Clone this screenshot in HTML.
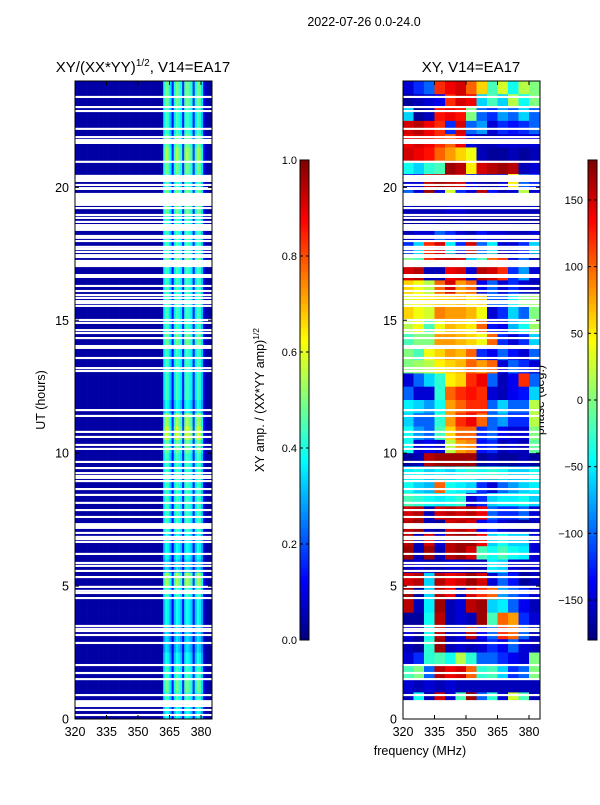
<!DOCTYPE html>
<html><head><meta charset="utf-8"><style>
body{margin:0;background:#fff;width:600px;height:800px;overflow:hidden}
svg text{font-family:"Liberation Sans",sans-serif;fill:#000}
</style></head><body>
<svg id="chart" width="600" height="800" viewBox="0 0 600 800" xmlns="http://www.w3.org/2000/svg">
<text x="364" y="26" font-size="12.5" text-anchor="middle">2022-07-26 0.0-24.0</text>
<text x="143" y="72" font-size="15" text-anchor="middle">XY/(XX*YY)<tspan font-size="10" dy="-6">1/2</tspan><tspan dy="6">, V14=EA17</tspan></text>
<text x="471" y="72" font-size="15" text-anchor="middle">XY, V14=EA17</text>
<text transform="translate(45,400) rotate(-90)" font-size="12.5" text-anchor="middle">UT (hours)</text>
<text x="420" y="755" font-size="12.5" text-anchor="middle">frequency (MHz)</text>
<text transform="translate(264,400) rotate(-90)" font-size="12.5" text-anchor="middle">XY amp. / (XX*YY amp)<tspan font-size="8.5" dy="-5">1/2</tspan></text>
<text transform="translate(544,400) rotate(-90)" font-size="12.5" text-anchor="middle">phase (deg.)</text>
<g id="left"></g><g id="right"></g><g id="cb1"></g><g id="cb2"></g>
</svg>
<script>
// ---- data ----
const phaseFreqs = [320,325,330,335,340,345,350,355,360,365,370,375,380]; // bin starts, 5 MHz wide
const rowStartHours = [23.5,23,22.5,22,21.5,21,20.5,20,19.5,19,18.5,18,17.5,17,16.5,16,15.5,15,14.5,14,13.5,13,12.5,12,11.5,11,10.5,10,9.5,9,8.5,8,7.5,7,6.5,6,5.5,5,4.5,4,3.5,3,2.5,2,1.5,1,0.5,0];
const phaseRows = [
[-150,-120,-100,120,140,150,100,60,-20,30,-40,20,0],
[-170,-160,-150,-140,120,150,140,-60,-20,-60,20,-40,0],
[-60,-170,-160,130,140,130,0,-100,-120,-80,-100,-60,-100],
[150,160,140,120,-120,150,-100,-80,-150,-120,-130,-120,-100],
[140,150,140,120,100,140,-150,-160,-160,-150,-150,-150,-150],
[150,140,130,100,80,60,40,-160,-170,-170,-160,-170,-160],
[-40,-60,-30,-20,170,160,50,150,160,170,160,-160,-150],
[-150,-150,160,170,160,150,-150,-160,-170,-150,50,-100,-120],
[-100,-150,170,-150,30,-120,-150,160,-130,-160,-150,20,-150],
[-160,-160,-160,-160,-150,-150,-160,-160,-160,-160,-160,-160,-160],
[-170,-170,-160,-170,-170,-160,-170,-170,-170,-170,-170,-170,-170],
[-160,-150,-150,-100,-120,-150,-160,-130,-150,-150,-160,-160,-150],
[-120,-60,120,150,-50,-120,150,-100,-50,-150,-150,-120,-60],
[0,-20,120,150,160,150,-60,-20,100,120,-150,-100,-160],
[150,160,-160,-160,140,150,-150,160,150,120,-120,-80,-150],
[60,40,20,100,150,80,100,-140,-100,-150,-120,-150,-160],
[30,40,50,60,60,70,50,60,-100,-100,-50,0,10],
[60,40,30,90,80,80,70,40,-150,-120,-60,-100,0],
[20,40,-20,40,70,60,50,100,-130,-140,-70,-40,10],
[-20,0,0,80,80,70,60,40,100,-120,-150,-120,-60],
[0,-20,40,60,80,70,100,-120,-140,-100,-130,-150,-100],
[0,10,20,50,60,70,100,80,100,-150,-100,-120,-150],
[-150,-100,-60,-30,50,60,120,140,-100,-160,-140,120,-100],
[-100,-150,-150,-30,100,120,130,120,-150,-160,-140,-130,-60],
[-50,-60,-80,-40,80,100,120,120,-100,-60,-100,-100,20],
[-60,-100,-100,-30,80,120,140,100,-100,-80,-120,-120,20],
[-40,-80,-100,-20,60,100,100,-120,-100,-140,-150,-150,0],
[-40,-150,-140,-150,20,80,90,-130,-120,-160,-150,-160,-10],
[-170,-160,160,170,170,170,170,-170,-160,-170,-170,-160,-170],
[-50,-40,-60,-50,-60,-40,-30,-40,-30,-40,-60,-60,-40],
[-40,-60,-70,100,-40,-50,-60,-120,-150,-100,-80,-60,-50],
[-20,-30,-40,-50,-40,-30,-150,-120,-60,-50,-50,-40,-60],
[150,160,-160,150,160,150,160,140,-100,-120,-120,-100,-150],
[160,170,-160,-170,150,160,150,-140,-120,-150,-160,-170,-160],
[160,-160,150,-150,160,170,170,140,-60,-40,-60,-60,-150],
[170,-160,170,-160,160,170,150,-20,-40,-20,-40,-50,-150],
[-160,-150,-160,-160,-150,-150,-160,-160,-50,-60,-150,-160,-150],
[150,160,-60,160,140,150,170,150,-150,-100,-130,-170,-160],
[170,-170,-60,160,140,-160,150,120,100,-80,-100,-120,-150],
[160,-160,-50,170,-160,-150,160,170,-60,-50,-100,-140,-160],
[-170,-170,-40,160,-160,-150,-160,170,-20,100,80,-120,-150],
[-150,-170,-40,160,-160,-150,160,-140,-100,120,100,-100,-160],
[-160,-170,-30,170,-160,-150,-160,-150,-120,-140,-100,-150,-160],
[-150,-120,-30,-20,-40,20,-30,-100,-100,-120,-140,-150,0],
[-20,0,-100,160,140,150,100,-30,-20,-60,-120,-100,0],
[-150,-160,-150,-160,-150,-160,-160,-160,-160,-160,-160,-160,-160],
[-160,-40,-160,150,-150,-20,170,-100,-30,-150,30,-20,-160]
];
// amplitude: 1 MHz bins 320..384 spectral profile, and per-row level
const ampFreqStart = 320;
const ampProfile = [0.06,0.06,0.06,0.06,0.06,0.06,0.06,0.06,0.06,0.06,0.06,0.06,0.06,0.06,0.06,0.06,0.06,0.06,0.06,0.06,0.06,0.06,0.06,0.06,0.06,0.06,0.06,0.06,0.06,0.06,0.06,0.06,0.06,0.06,0.06,0.06,0.06,0.06,0.06,0.06,0.06,0.06,
0.8,1,0.9,0.7,0.3,0.8,1,0.9,0.8,0.35,0.9,1,0.9,0.8,0.35,0.8,1,0.9,0.7,0.2,0.1,0.08,0.06];
const ampRowLevel = [0.5,0.5,0.45,0.45,0.5,0.55,0.5,0.45,0.5,0.5,0.45,0.45,0.45,0.5,0.45,0.45,0.45,0.45,0.45,0.5,0.45,0.45,0.45,0.45,0.4,0.55,0.6,0.5,0.45,0.45,0.45,0.45,0.45,0.45,0.4,0.4,0.35,0.55,0.45,0.4,0.4,0.35,0.35,0.4,0.45,0.5,0.45,0.4];
// white gaps (hours) [start,end]
const gapHours = [[23.36,23.44],[22.98,23.06],[22.83,22.91],[22.16,22.24],[21.85,21.93],[21.63,21.82],[20.92,21.0],[20.2,20.47],[20.05,20.13],[19.9,20.01],[19.3,19.79],[19.18,19.26],[18.92,19.0],[18.81,18.89],[18.66,18.74],[18.36,18.62],[18.13,18.21],[18.06,18.14],[17.94,18.02],[17.72,17.8],[17.64,17.72],[17.53,17.61],[17.41,17.49],[17.34,17.42],[17.0,17.27],[16.59,16.74],[16.25,16.33],[16.06,16.14],[15.91,15.99],[15.8,15.88],[15.68,15.76],[15.61,15.69],[15.5,15.58],[14.97,15.05],[14.86,14.94],[14.59,14.67],[14.48,14.56],[14.29,14.37],[13.99,14.07],[13.92,14.0],[13.54,13.62],[13.16,13.24],[13.05,13.13],
[11.58,11.66],[11.36,11.44],[10.76,10.84],[10.57,10.65],[10.27,10.35],[10.12,10.2],[9.63,9.71],[9.4,9.48],[9.21,9.29],[9.1,9.18],[9.03,9.11],[8.91,8.99],[8.61,8.69],[8.39,8.47],[8.09,8.17],[7.82,7.9],[7.56,7.64],[7.15,7.37],[6.96,7.04],[6.81,6.89],[6.73,6.81],[6.62,6.7],[6.17,6.25],[5.83,5.91],[5.72,5.8],[5.53,5.61],[5.3,5.38],[4.93,5.01],[4.78,4.86],[4.7,4.78],[4.51,4.59],[3.46,3.54],[3.35,3.43],[3.27,3.35],[3.12,3.2],[2.82,2.9],[1.99,2.07],[1.69,1.77],[1.46,1.54],[0.86,0.94],[0.45,0.71],[0.3,0.38],[0.11,0.19]];
const xTicks = [320,335,350,365,380];
const yTicks = [0,5,10,15,20];
const ampTicks = [0,0.2,0.4,0.6,0.8,1.0];
const phaseTicks = [-150,-100,-50,0,50,100,150];

// ---- helpers ----
const NS='http://www.w3.org/2000/svg';
function jet(v){v=Math.max(0,Math.min(1,v));
 const c=x=>Math.round(255*Math.max(0,Math.min(1,x)));
 return `rgb(${c(1.5-Math.abs(4*v-3))},${c(1.5-Math.abs(4*v-2))},${c(1.5-Math.abs(4*v-1))})`;}
function mk(tag,attrs,parent){const e=document.createElementNS(NS,tag);for(const k in attrs)e.setAttribute(k,attrs[k]);parent.appendChild(e);return e;}
const Y0=81,Y1=719,F0=320,PXF=2.1;
const yScale=h=>Y1-(h/24)*(Y1-Y0);
function panel(gid,x0){
 const g=document.getElementById(gid);
 const xs=f=>x0+(f-F0)*PXF;
 return {g,xs};
}
const L=panel('left',75), R=panel('right',403);


// amplitude cells
rowStartHours.forEach((h,r)=>{
 const yTop=yScale(h+0.5), yBot=yScale(h);
 ampProfile.forEach((p,c)=>{
  const f=ampFreqStart+c;
  const v=c<42?p*0.6:p*ampRowLevel[r];
  const e=mk('rect',{x:L.xs(f),y:yTop,width:PXF+0.3,height:yBot-yTop+0.3,fill:jet(v)},L.g);
  
  
 });
});
// phase cells
phaseRows.forEach((row,r)=>{
 const h=rowStartHours[r];
 const yTop=yScale(h+0.5), yBot=yScale(h);
 row.forEach((v,c)=>{
  const f=phaseFreqs[c];
  const e=mk('rect',{x:R.xs(f),y:yTop,width:5*PXF+0.3,height:yBot-yTop+0.3,fill:jet((v+180)/360)},R.g);
  
  
 });
});
// gaps & axes
[L,R].forEach(P=>{
 gapHours.forEach(([a,b])=>{
  const e=mk('rect',{x:P.xs(320),y:yScale(b),width:137,height:Math.max(1.5,yScale(a)-yScale(b)),fill:'#fff'},P.g);
  
  
 });
 const x0=P.xs(320);
 const fr=mk('rect',{x:x0,y:Y0,width:137,height:Y1-Y0,fill:'none',stroke:'#000','stroke-width':1},P.g);
 
 
 xTicks.forEach(t=>{const x=P.xs(t);
  mk('line',{x1:x,x2:x,y1:Y1,y2:Y1-4,stroke:'#000'},P.g);mk('line',{x1:x,x2:x,y1:Y0,y2:Y0+4,stroke:'#000'},P.g);
  const tx=mk('text',{x:x,y:Y1+17,'font-size':12.5,'text-anchor':'middle'},P.g);tx.textContent=t;
  
  });
 yTicks.forEach(t=>{const y=yScale(t);
  mk('line',{x1:x0,x2:x0+4,y1:y,y2:y,stroke:'#000'},P.g);mk('line',{x1:x0+137,x2:x0+133,y1:y,y2:y,stroke:'#000'},P.g);
  const tx=mk('text',{x:x0-6,y:y+4.5,'font-size':12.5,'text-anchor':'end'},P.g);tx.textContent=t;
  
  });
});
// colorbars
function colorbar(gid,x,min,max,ticks,name){
 const g=document.getElementById(gid);
 
 
 const N=120,top=160,bot=640;
 for(let i=0;i<N;i++){mk('rect',{x:x,y:bot-(i+1)*(bot-top)/N,width:9,height:(bot-top)/N+0.5,fill:jet((i+0.5)/N)},g);}
 mk('rect',{x:x,y:top,width:9,height:bot-top,fill:'none',stroke:'#000'},g);
 ticks.forEach(t=>{const y=bot-(t-min)/(max-min)*(bot-top);
  mk('line',{x1:x,x2:x+3,y1:y,y2:y,stroke:'#000'},g);mk('line',{x1:x+9,x2:x+6,y1:y,y2:y,stroke:'#000'},g);
  const tx=mk('text',{x:name==='amp-colorbar'?x-3:x-5,y:y+4,'font-size':11,'text-anchor':'end'},g);
  tx.textContent=name==='amp-colorbar'?t.toFixed(1):(t<0?'\u2212'+(-t):t);
  
  });
}
colorbar('cb1',300,0,1,ampTicks,'amp-colorbar');
colorbar('cb2',588,-180,180,phaseTicks,'phase-colorbar');
</script>
</body></html>
